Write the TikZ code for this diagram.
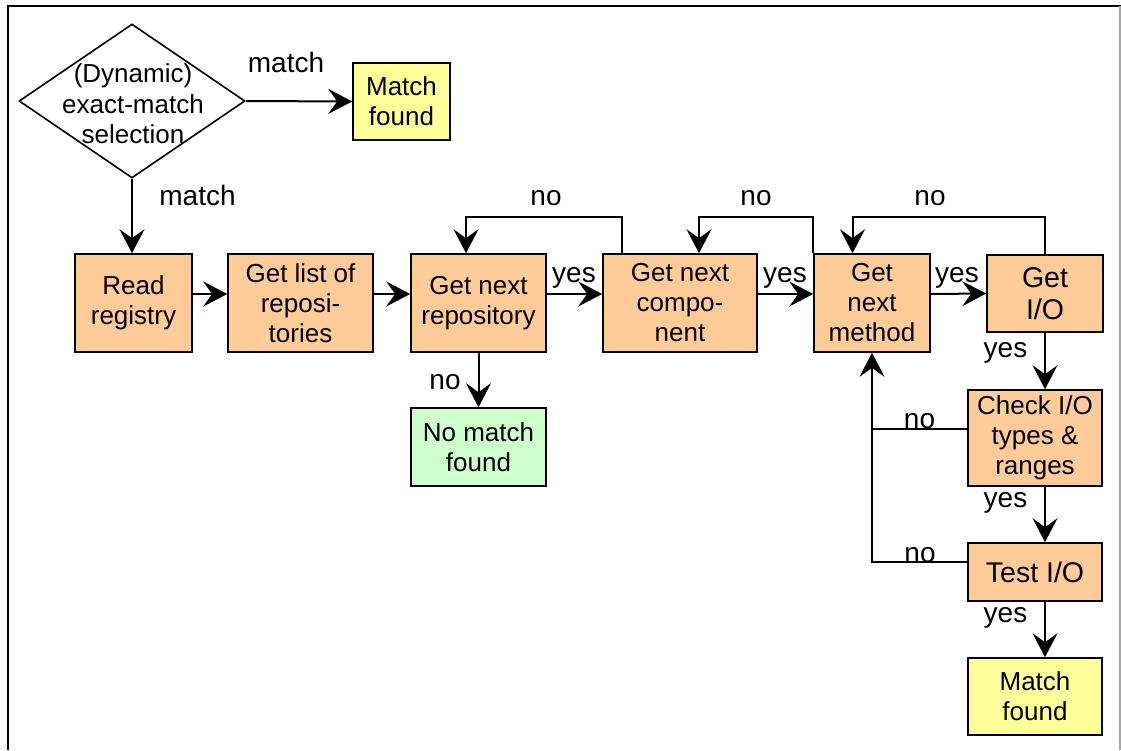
\documentclass[tikz,border=0pt]{standalone}
\usepackage{fontspec}
\setmainfont{Liberation Sans}
\usetikzlibrary{arrows.meta,shapes.geometric,calc}

\definecolor{procfill}{HTML}{FFCC99}
\definecolor{hitfill}{HTML}{FFFF99}
\definecolor{missfill}{HTML}{CCFFCC}

\tikzset{
  boxtext/.style={font=\fontsize{26}{30}\selectfont},
  bigtext/.style={font=\fontsize{28.5}{32}\selectfont},
  proc/.style={draw=black, line width=1.6pt, fill=procfill, align=center,
    inner sep=0pt, boxtext},
  hit/.style={proc, fill=hitfill},
  miss/.style={proc, fill=missfill},
  wire/.style={draw=black, line width=2pt},
  arr/.style={wire, -{Stealth[length=24pt, width=25pt, inset=9pt]}},
  lbl/.style={anchor=base, inner sep=0pt, font=\fontsize{28}{32}\selectfont}
}

\begin{document}
\begin{tikzpicture}[x=1pt, y=-1pt]
\useasboundingbox (0,0) rectangle (1121,750);

% outer frame
\draw[line width=2.4pt] (8,750) -- (8,6) -- (1121,6);
\draw[black!35, line width=1.2pt] (1120,6) -- (1120,750);

% decision diamond
\node[diamond, draw=black, line width=1.6pt, minimum width=226pt,
      minimum height=154pt, inner sep=0pt] (sel) at (132,101) {};
\node[align=center, inner sep=0pt, font=\fontsize{26}{30.5}\selectfont]
  (seltext) at (133,104) {(Dynamic)\\exact-match\\selection};

% nodes
\node[hit, minimum width=97pt, minimum height=77pt] (match1) at (401.5,101.5) {Match\\found};
\node[proc, minimum width=117pt, minimum height=98pt] (read) at (133.5,303) {Read\\registry};
\node[proc, minimum width=145pt, minimum height=98pt] (list) at (300.5,303) {Get list of\\reposi-\\tories};
\node[proc, minimum width=135pt, minimum height=98pt] (repo) at (478.5,303) {Get next\\repository};
\node[proc, minimum width=154pt, minimum height=98pt] (comp) at (680,303) {Get next\\compo-\\nent};
\node[proc, minimum width=116pt, minimum height=98pt] (meth) at (872,303) {Get\\next\\method};
\node[proc, bigtext, minimum width=116pt, minimum height=77pt] (getio) at (1045,293.5) {Get\\I/O};
\node[miss, minimum width=135pt, minimum height=78pt] (nomatch) at (478.5,447) {No match\\found};
\node[proc, minimum width=134pt, minimum height=96pt] (check) at (1035,438) {Check I/O\\types \&\\ranges};
\node[proc, bigtext, minimum width=134pt, minimum height=58pt] (test) at (1035,572) {Test I/O};
\node[hit, minimum width=134pt, minimum height=77pt] (match2) at (1035,696.5) {Match\\found};

% rails for the feedback loops
\coordinate (railtop) at (0,217);

% main flow
\draw[arr] (sel.east) -- (match1.west);
\draw[arr] (sel.south) -- (sel.south |- read.north);
\draw[arr] ([yshift=9pt]read.east) -- ([yshift=9pt]list.west);
\draw[arr] ([yshift=9pt]list.east) -- ([yshift=9pt]repo.west);
\draw[arr] ([yshift=9pt]repo.east) -- ([yshift=9pt]comp.west);
\draw[arr] ([yshift=9pt]comp.east) -- ([yshift=9pt]meth.west);
\draw[arr] ([yshift=9pt]meth.east) -- (getio.west);
\draw[arr] (repo.south) -- (nomatch.north);
\draw[arr] (getio.south) -- (getio.south |- check.north);
\draw[arr] (check.south -| getio.south) -- (test.north -| getio.south);
\draw[arr] (test.south -| getio.south) -- (match2.north -| getio.south);

% "no" loops back along the top
\draw[arr] ([xshift=20pt]comp.north west) -- ([xshift=20pt]comp.north west |- railtop)
  -| ([xshift=-12.5pt]repo.north);
\draw[arr] (meth.north west) -- (meth.north west |- railtop)
  -| ([xshift=19pt]comp.north);
\draw[arr] (getio.north) -- (getio.north |- railtop)
  -| ([xshift=-19.5pt]meth.north);

% "no" loops back from the checks
\draw[wire] ([yshift=9pt]check.west) -- ([yshift=9pt]check.west -| meth.south);
\draw[arr] ([yshift=10pt]test.west) -| (meth.south);

% labels
\node[lbl] (lm1) at (286,72) {match};
\node[lbl] (lm2) at (197.5,205) {match};
\node[lbl] (ln1) at (546,205.5) {no};
\node[lbl] (ln2) at (756,205.5) {no};
\node[lbl] (ln3) at (930,205.5) {no};
\node[lbl] (ln4) at (445,389) {no};
\node[lbl] (ln5) at (919.5,428) {no};
\node[lbl] (ln6) at (920,562) {no};
\node[lbl] (ly1) at (574,282) {yes};
\node[lbl] (ly2) at (785,282) {yes};
\node[lbl] (ly3) at (957,282) {yes};
\node[lbl] (ly4) at (1005.5,357) {yes};
\node[lbl] (ly5) at (1005.5,507) {yes};
\node[lbl] (ly6) at (1005.5,622) {yes};
\end{tikzpicture}
\end{document}
